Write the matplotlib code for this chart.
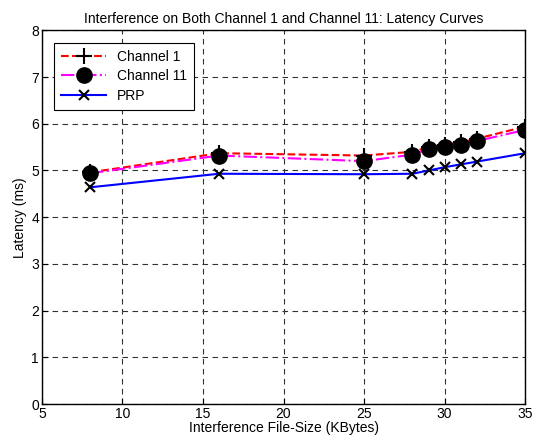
import matplotlib
matplotlib.use("Agg")
import matplotlib.pyplot as plt

plt.rcParams['font.family'] = ['Liberation Sans', 'DejaVu Sans']

file_size = [8, 16, 25, 28, 29, 30, 31, 32, 35]
channel1 = [4.96, 5.37, 5.32, 5.40, 5.50, 5.55, 5.60, 5.68, 5.94]
channel11 = [4.94, 5.32, 5.20, 5.34, 5.45, 5.50, 5.55, 5.63, 5.87]
prp = [4.64, 4.93, 4.92, 4.93, 5.00, 5.07, 5.13, 5.19, 5.37]

fig = plt.figure(figsize=(5.37, 4.46), dpi=100)
ax = fig.add_axes([0.078, 0.094, 0.9, 0.838])

ax.plot(file_size, channel1, color='red', linestyle='--', linewidth=1.5,
        marker='+', markersize=11, markeredgecolor='black', markeredgewidth=1.5,
        label='Channel 1')
ax.plot(file_size, channel11, color='magenta', linestyle='-.', linewidth=1.5,
        marker='o', markersize=11, markerfacecolor='black', markeredgecolor='black',
        label='Channel 11')
ax.plot(file_size, prp, color='blue', linestyle='-', linewidth=1.5,
        marker='x', markersize=7, markeredgecolor='black', markeredgewidth=1.5,
        label='PRP')

ax.set_xlim(5, 35)
ax.set_ylim(0, 8)
ax.set_xticks(range(5, 36, 5))
ax.set_yticks(range(0, 9))
ax.grid(True, color='#333333', linestyle=(0, (5, 4)), linewidth=0.8)
ax.tick_params(direction='in', labelsize=10, length=4, pad=2)
for s in ax.spines.values():
    s.set_linewidth(1.0)

ax.set_title('Interference on Both Channel 1 and Channel 11: Latency Curves', fontsize=10, pad=5)
ax.set_xlabel('Interference File-Size (KBytes)', fontsize=10, labelpad=0)
ax.set_ylabel('Latency (ms)', fontsize=10, labelpad=3)

leg = ax.legend(loc='upper left', fontsize=10, fancybox=False, edgecolor='black',
                framealpha=1, handlelength=3.2, borderaxespad=0.9,
                labelspacing=0.4, borderpad=0.5)
leg.get_frame().set_linewidth(0.8)

fig.savefig('out.png', dpi=100)
